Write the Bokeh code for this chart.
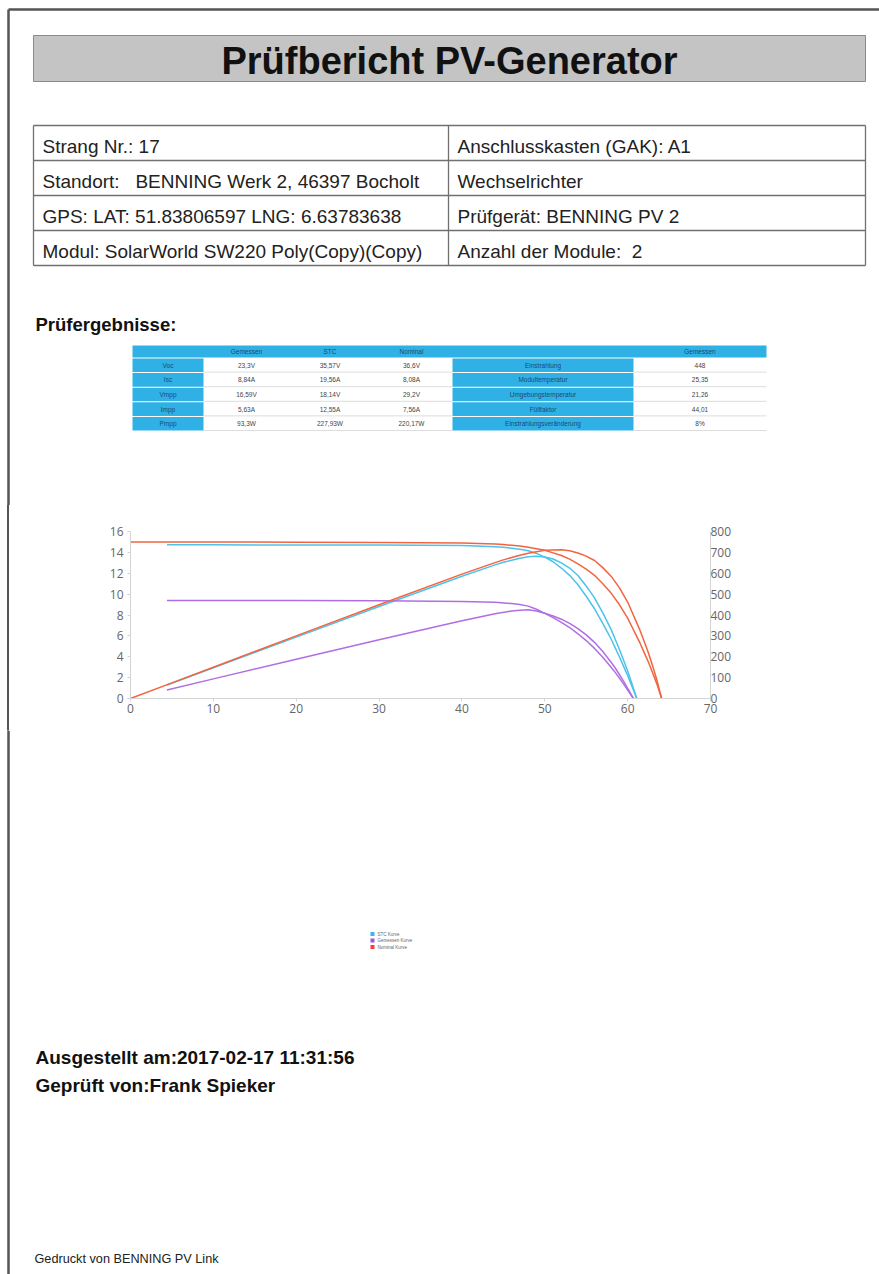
from bokeh.plotting import figure
from bokeh.models import Range1d, LinearAxis, SingleIntervalTicker, ColumnDataSource
from bokeh.layouts import column
from bokeh.embed import file_html
from bokeh.resources import INLINE
from bokeh.core.properties import value

# ---------------- report content ----------------
report_title = "Prüfbericht PV-Generator"
info_left = [
    "Strang Nr.: 17",
    "Standort:\u00a0\u00a0\u00a0BENNING Werk 2, 46397 Bocholt",
    "GPS: LAT: 51.83806597 LNG: 6.63783638",
    "Modul: SolarWorld SW220 Poly(Copy)(Copy)",
]
info_right = [
    "Anschlusskasten (GAK): A1",
    "Wechselrichter",
    "Prüfgerät: BENNING PV 2",
    "Anzahl der Module:\u00a0 2",
]
section_title = "Prüfergebnisse:"

result_columns = ["Gemessen", "STC", "Nominal"]
result_rows = ["Voc", "Isc", "Vmpp", "Impp", "Pmpp"]
measured_vals = ["23,3V", "8,84A", "16,59V", "5,63A", "93,3W"]
stc_vals = ["35,57V", "19,56A", "18,14V", "12,55A", "227,93W"]
nominal_vals = ["36,6V", "8,08A", "29,2V", "7,56A", "220,17W"]
env_header = "Gemessen"
env_labels = ["Einstrahlung", "Modultemperatur", "Umgebungstemperatur",
              "Füllfaktor", "Einstrahlungsveränderung"]
env_vals = ["448", "25,35", "21,26", "44,01", "8%"]

# I-V and P-V curves (voltage V, current A, power W)
stc_v = [4.4, 10, 20, 30, 40, 44, 45, 46, 47, 48, 49, 50, 51, 52, 53, 54, 55, 55.5, 56,
         56.5, 57, 57.5, 58, 58.5, 59, 59.5, 60, 60.5, 61.1]
stc_i = [14.72, 14.72, 14.71, 14.7, 14.65, 14.55, 14.5, 14.4, 14.3, 14.15, 13.9, 13.55,
         13.1, 12.5, 11.8, 10.9, 9.8, 9.2, 8.6, 7.9, 7.2, 6.45, 5.7, 4.85, 4.0, 3.1, 2.2,
         1.2, 0.0]
stc_p = [65, 147, 294, 441, 586, 640, 653, 662, 672, 679, 681, 678, 668, 650, 625, 589,
         539, 511, 482, 446, 410, 371, 331, 284, 236, 184, 132, 73, 0]

gem_v = [4.4, 10, 20, 30, 40, 44, 46, 47, 48, 49, 50, 51, 52, 53, 54, 55, 56, 57, 58,
         58.5, 59, 59.5, 60, 60.7]
gem_i = [9.39, 9.39, 9.38, 9.37, 9.3, 9.22, 9.1, 9.0, 8.85, 8.55, 8.15, 7.75, 7.3, 6.8,
         6.2, 5.55, 4.8, 3.95, 3.0, 2.5, 1.95, 1.4, 0.8, 0.0]
gem_p = [41, 94, 188, 281, 372, 406, 419, 423, 425, 419, 408, 395, 380, 360, 335, 305,
         269, 225, 174, 146, 115, 83, 48, 0]

nom_v = [0, 5, 10, 20, 30, 40, 44, 45, 46, 47, 48, 49, 50, 51, 52, 53, 54, 55, 56, 57,
         58, 59, 60, 60.5, 61, 61.5, 62, 62.5, 63, 63.5, 64.1]
nom_i = [15.0, 15.0, 15.0, 14.98, 14.95, 14.9, 14.8, 14.75, 14.68, 14.6, 14.5, 14.35,
         14.2, 13.95, 13.7, 13.35, 12.9, 12.4, 11.8, 11.0, 10.1, 9.0, 7.7, 6.9, 6.1, 5.3,
         4.4, 3.5, 2.5, 1.45, 0.0]
nom_p = [0, 75, 150, 300, 449, 596, 651, 664, 675, 686, 696, 703, 710, 711, 712, 708,
         697, 682, 661, 627, 586, 531, 462, 417, 372, 326, 273, 219, 158, 92, 0]

legend_names = ["STC Kurve", "Gemessen Kurve", "Nominal Kurve"]

issued_text = "Ausgestellt am:2017-02-17 11:31:56"
checked_text = "Geprüft von:Frank Spieker"
printed_text = "Gedruckt von BENNING PV Link"

# ---------------- styling ----------------
W = 879
H_TOP, H_MID, H_BOT = 505, 225, 544
BORDER = "#555555"
CYAN = "#2fb1e6"
C_STC = "#4dc2ec"
C_GEM = "#b06ee4"
C_NOM = "#f2643e"
LEGEND_COLORS = ["#36b6f2", "#a552e0", "#ff3b3b"]
SANS = "Liberation Sans"


def page_fig(h, w=W):
    p = figure(width=w, height=h, x_range=Range1d(0, w), y_range=Range1d(h, 0),
               x_axis_type=None, y_axis_type=None, output_backend="svg",
               toolbar_location=None, min_border=0, frame_align=False)
    p.outline_line_color = None
    p.background_fill_color = "white"
    p.border_fill_color = "white"
    return p


def texts(p, xs, ys, labels, size, bold=False, align="left", baseline="alphabetic",
          color="#222222", font=SANS):
    # alphabetic baselines are given as page positions; shift to where the
    # renderer actually places the baseline
    if baseline == "alphabetic":
        ys = [y - 0.38 * size for y in ys]
    p.text(x=xs, y=ys, text=labels, text_font=value(font),
           text_font_size=value(f"{size}px"), text_font_style="bold" if bold else "normal",
           text_align=align, text_baseline=baseline, text_color=color)


# ================= top part of the page =================
top = page_fig(H_TOP)
top.segment(x0=[8, 8], y0=[9, 9], x1=[W, 8], y1=[9, H_TOP], line_color=BORDER, line_width=2.5)

# title bar
top.quad(left=[33], right=[865], top=[35], bottom=[81], fill_color="#c4c4c4",
         line_color="#8a8a8a", line_width=1)
texts(top, [449], [75], [report_title], 38, bold=True, align="center", color="#111111")

# general information table
row_top, row_h = 125, 35
n_info = len(info_left)
t_left, t_mid, t_right = 33, 448, 865
hy = [row_top + k * row_h for k in range(n_info + 1)]
top.segment(x0=[t_left] * len(hy), x1=[t_right] * len(hy), y0=hy, y1=hy,
            line_color="#707070", line_width=1.3)
top.segment(x0=[t_left, t_mid, t_right], x1=[t_left, t_mid, t_right],
            y0=[hy[0]] * 3, y1=[hy[-1]] * 3, line_color="#707070", line_width=1.3)
base = [row_top + k * row_h + 28 for k in range(n_info)]
texts(top, [42] * n_info, base, info_left, 19)
texts(top, [457] * n_info, base, info_right, 19)

texts(top, [35], [331], [section_title], 18.5, bold=True, color="#111111")

# results table
edges = [132, 203, 289, 370, 452, 633, 766]
hdr_top, hdr_bot = 345, 357
r_h = 14.6
n_res = len(result_rows)
top.quad(left=[edges[0]], right=[edges[-1]], top=[hdr_top], bottom=[hdr_bot],
         fill_color=CYAN, line_color=None)
cell_l, cell_r, cell_t, cell_b = [], [], [], []
for r in range(n_res):
    y0 = hdr_bot + r * r_h + 1
    y1 = hdr_bot + (r + 1) * r_h
    for (a, b) in [(edges[0], edges[1]), (edges[4], edges[5])]:
        cell_l.append(a); cell_r.append(b); cell_t.append(y0); cell_b.append(y1)
top.quad(left=cell_l, right=cell_r, top=cell_t, bottom=cell_b, fill_color=CYAN,
         line_color=None)
sep_y = [hdr_bot + (r + 1) * r_h for r in range(n_res)]
top.segment(x0=[edges[1]] * n_res, x1=[edges[4]] * n_res, y0=sep_y, y1=sep_y,
            line_color="#dddddd", line_width=1)
top.segment(x0=[edges[5]] * n_res, x1=[edges[6]] * n_res, y0=sep_y, y1=sep_y,
            line_color="#dddddd", line_width=1)

hdr_mid = (hdr_top + hdr_bot) / 2
col_mid = [(edges[k] + edges[k + 1]) / 2 for k in range(len(edges) - 1)]
texts(top, col_mid[1:4], [hdr_mid] * 3, result_columns, 6.5, align="center",
      baseline="middle", color="#24476a")
texts(top, [col_mid[5]], [hdr_mid], [env_header], 6.5, align="center",
      baseline="middle", color="#24476a")
rows_mid = [hdr_bot + (r + 0.5) * r_h + 0.5 for r in range(n_res)]
texts(top, [col_mid[0]] * n_res, rows_mid, result_rows, 6.5, align="center",
      baseline="middle", color="#1d4a75")
texts(top, [col_mid[4]] * n_res, rows_mid, env_labels, 6.5, align="center",
      baseline="middle", color="#1d4a75")
for k, vals in enumerate([measured_vals, stc_vals, nominal_vals]):
    texts(top, [col_mid[k + 1]] * n_res, rows_mid, vals, 6.5, align="center",
          baseline="middle", color="#444444")
texts(top, [col_mid[5]] * n_res, rows_mid, env_vals, 6.5, align="center",
      baseline="middle", color="#444444")

# ================= chart band =================
chart = figure(width=W, height=H_MID, x_range=Range1d(0, 70), y_range=Range1d(0, 16),
               output_backend="svg", toolbar_location=None, frame_align=False,
               min_border_left=130, min_border_right=169, min_border_top=26,
               min_border_bottom=32)
chart.border_fill_color = None
chart.background_fill_color = "white"
chart.extra_y_ranges = {"power": Range1d(0, 800)}
chart.xgrid.visible = False
chart.ygrid.visible = False
chart.outline_line_color = None
chart.xaxis.ticker = SingleIntervalTicker(interval=10)
chart.yaxis.ticker = SingleIntervalTicker(interval=2)
p_axis = LinearAxis(y_range_name="power", ticker=SingleIntervalTicker(interval=100))
chart.add_layout(p_axis, "right")
for ax in chart.axis:
    ax.axis_line_color = "#d4d4d4"
    ax.major_tick_line_color = "#d4d4d4"
    ax.major_tick_out = 3
    ax.major_tick_in = 0
    ax.minor_tick_line_color = None
    ax.major_label_text_font = "Open Sans"
    ax.major_label_text_font_size = "12px"
    ax.major_label_text_color = "#666666"
    ax.major_label_standoff = 3
p_axis.major_tick_out = 0
p_axis.major_label_standoff = -4
chart.xaxis.major_label_standoff = 1

for v, i, pw, c in [(stc_v, stc_i, stc_p, C_STC), (gem_v, gem_i, gem_p, C_GEM),
                    (nom_v, nom_i, nom_p, C_NOM)]:
    src = ColumnDataSource(dict(v=v, i=i, p=pw))
    chart.line("v", "i", source=src, line_color=c, line_width=1.5, line_join="round")
    chart.line("v", "p", source=src, line_color=c, line_width=1.5, line_join="round",
               y_range_name="power")

# ================= bottom part of the page =================
OFF = H_TOP + H_MID
bot = page_fig(H_BOT)
bot.segment(x0=[8], x1=[8], y0=[0], y1=[H_BOT], line_color=BORDER, line_width=2.5)

n_leg = len(legend_names)
leg_y = [933.5 - OFF + k * 6.5 for k in range(n_leg)]
bot.rect(x=[372] * n_leg, y=leg_y, width=4, height=4, fill_color=LEGEND_COLORS,
         line_color=None)
texts(bot, [377] * n_leg, leg_y, legend_names, 4.5, baseline="middle", color="#666666")

texts(bot, [35, 35], [1064 - OFF, 1092 - OFF], [issued_text, checked_text], 19,
      bold=True, color="#111111")
texts(bot, [34], [1263 - OFF], [printed_text], 12.7, color="#222222")

# the page frame line on the left runs behind the transparent chart band
page_bg = ("linear-gradient(to bottom, #ffffff 0px, #ffffff 8px, rgba(255,255,255,0) 8px), "
           "linear-gradient(to right, #ffffff 0px, #ffffff 6.75px, #555555 6.75px, "
           "#555555 9.25px, #ffffff 9.25px)")
page = column(top, chart, bot, styles={"background": page_bg})
with open("out.html", "w") as f:
    f.write(file_html(page, INLINE, title=report_title))
